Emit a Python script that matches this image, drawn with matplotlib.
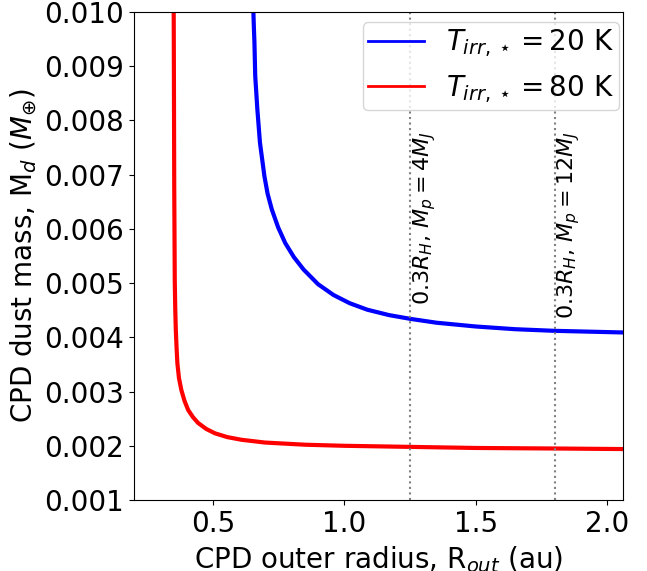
import matplotlib
matplotlib.use('Agg')
import matplotlib.pyplot as plt

# Curvas (radio externo en au, masa de polvo en M_tierra)
r_20 = [0.654, 0.656, 0.658, 0.661, 0.669, 0.679, 0.696, 0.708, 0.724, 0.748,
        0.775, 0.808, 0.845, 0.900, 0.959, 1.020, 1.087, 1.170, 1.252, 1.350,
        1.500, 1.650, 1.800, 2.060]
m_20 = [0.0100, 0.0097, 0.00944, 0.00882, 0.00821, 0.00759, 0.00697, 0.00665, 0.00636, 0.00603,
        0.00574, 0.00548, 0.00525, 0.00498, 0.00478, 0.00463, 0.00451, 0.00441, 0.00434, 0.00427,
        0.00420, 0.00415, 0.00412, 0.00409]

r_80 = [0.351, 0.352, 0.353, 0.355, 0.357, 0.359, 0.362, 0.365, 0.371, 0.380,
        0.392, 0.406, 0.424, 0.444, 0.475, 0.508, 0.555, 0.610, 0.698, 0.850,
        1.000, 1.250, 1.500, 1.800, 2.060]
m_80 = [0.0100, 0.0085, 0.0068, 0.00506, 0.00450, 0.00414, 0.00380, 0.00352, 0.00325, 0.00303,
        0.00283, 0.00266, 0.00253, 0.00242, 0.00231, 0.00223, 0.00216, 0.00211, 0.00206, 0.00202,
        0.00200, 0.00198, 0.00196, 0.00195, 0.00194]

# Radios de 0.3 R_H para cada masa planetaria
r_hill = [1.25, 1.80]
hill_labels = [r'$0.3R_H$, $M_p = 4M_J$', r'$0.3R_H$, $M_p = 12M_J$']

fig = plt.figure(figsize=(6.47, 5.71), dpi=100)
ax = fig.add_axes([0.2071, 0.1243, 0.7560, 0.8547])

ax.plot(r_20, m_20, color='blue', linewidth=3, label=r'$T_{irr, \star} = 20$ K')
ax.plot(r_80, m_80, color='red', linewidth=3, label=r'$T_{irr, \star} = 80$ K')

for r, lab in zip(r_hill, hill_labels):
    ax.axvline(r, color='gray', linestyle=':', linewidth=1.5)
    ax.text(r + 0.003, 0.0078, lab, rotation=90, ha='left', va='top', fontsize=16)

ax.set_xlim(0.2, 2.06)
ax.set_ylim(0.001, 0.010)
ax.set_xticks([0.5, 1.0, 1.5, 2.0])
ax.set_yticks([0.001, 0.002, 0.003, 0.004, 0.005, 0.006, 0.007, 0.008, 0.009, 0.010])
ax.tick_params(labelsize=20)
ax.set_xlabel(r'CPD outer radius, R$_{out}$ (au)', fontsize=20, labelpad=4.5)
ax.set_ylabel(r'CPD dust mass, M$_d$ ($M_{\oplus}$)', fontsize=20)
leg = ax.legend(loc='upper right', bbox_to_anchor=(0.992, 0.9795), borderaxespad=0,
                borderpad=0.2, fontsize=20)
for line in leg.get_lines():
    line.set_linewidth(2)

fig.savefig('out.png', dpi=100)
